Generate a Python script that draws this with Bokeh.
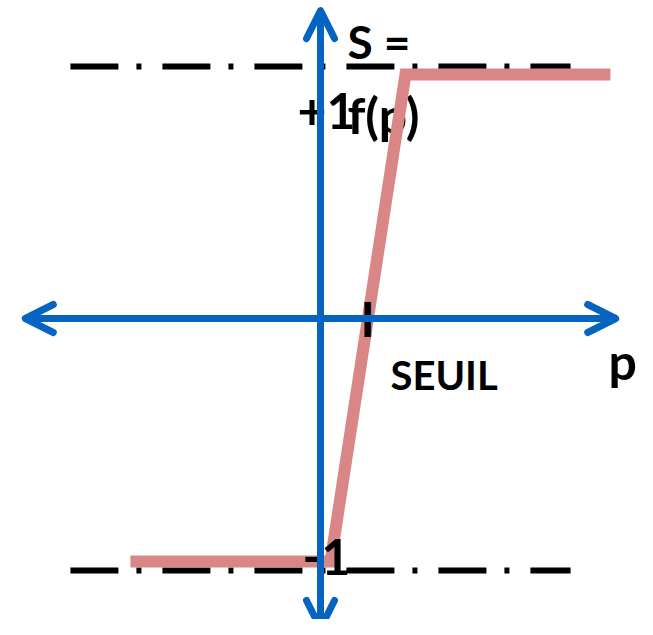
from bokeh.plotting import figure
from bokeh.models import Arrow, OpenHead, Range1d
from bokeh.core.properties import value
from bokeh.embed import file_html
from bokeh.resources import INLINE

# --- data (p: input, S: output) ---
curve_p = [-3.96, 0.21, 1.77, 6.04]
curve_s = [-0.964, -0.964, 0.968, 0.968]
threshold = 1.0
level_values = [1.0, -1.0]
level_p_extent = [-5.21, 5.21]
axis_p_extent = [-6.15, 6.15]
axis_s_extent = [-1.23, 1.222]

BLUE = "#0563C1"
PINK = "#D88686"
FONT = value("Lato")

p = figure(width=637, height=619, output_backend="svg", toolbar_location=None,
           x_axis_type=None, y_axis_type=None,
           x_range=Range1d(-6.6667, 6.6042), y_range=Range1d(-1.19444, 1.261905),
           min_border=0)
p.grid.visible = False
p.outline_line_color = None
p.background_fill_color = "white"
p.border_fill_color = "white"

def head():
    return OpenHead(size=28, line_color=BLUE, line_width=7,
                    line_cap="round", line_join="round")

# horizontal axis (p)
p.add_layout(Arrow(start=head(), end=head(),
                   x_start=axis_p_extent[0], y_start=0,
                   x_end=axis_p_extent[1], y_end=0,
                   line_color=BLUE, line_width=7))
# vertical axis (S)
p.add_layout(Arrow(start=head(), end=head(),
                   x_start=0, y_start=axis_s_extent[0],
                   x_end=0, y_end=axis_s_extent[1],
                   line_color=BLUE, line_width=7))

# dash-dot levels at +1 and -1
for lv in level_values:
    p.line(level_p_extent, [lv, lv], line_color="black", line_width=6,
           line_dash="48 18 5 21")

def label(x, y, txt, size, align="left"):
    p.text(x=[x], y=[y], text=[txt], text_font=FONT, text_font_style="bold",
           text_font_size=size, text_color="black", text_align=align,
           text_baseline="alphabetic")

# label S = f(p) (under the curve)
label(0.56, 1.099, "S =", "46px")
label(0.56, 0.808, "f(p)", "50px")

# the transfer curve
p.line(curve_p, curve_s, line_color=PINK, line_width=12, line_join="miter")

# tick labels
label(-0.479, 0.823, "+1", "50px")
label(-0.375, -0.946, "-1", "50px")
label(threshold - 0.02, 0.0, "I", "48px", align="center")
label(1.458, -0.226, "SEUIL", "40px")
label(6.0, -0.1706, "p", "50px")

open("out.html", "w").write(file_html(p, INLINE))
